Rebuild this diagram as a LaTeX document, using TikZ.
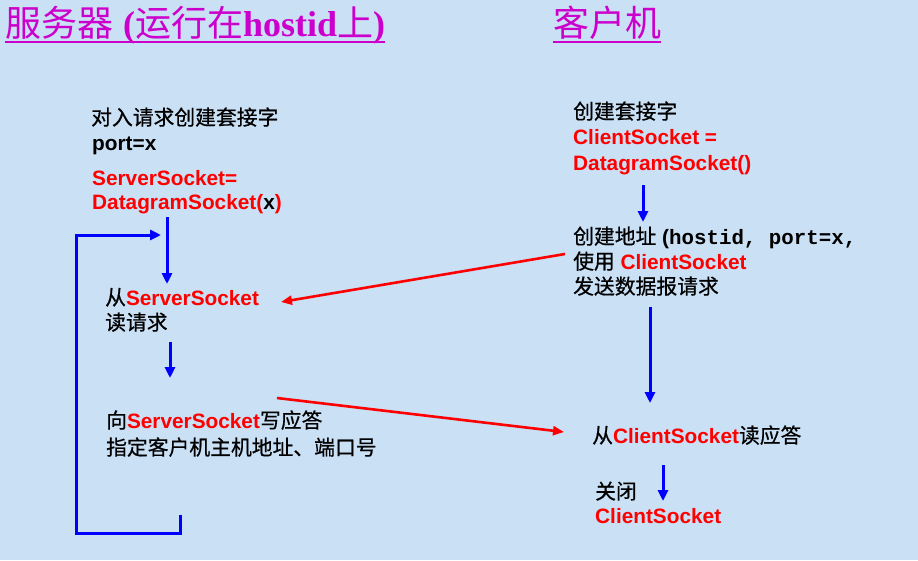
\documentclass[tikz,border=0pt]{standalone}
\usepackage{fontspec}
\setmainfont{Liberation Sans}
\newfontfamily\cjk{Noto Sans CJK SC}
\newfontfamily\cjkm[FakeBold=0.6]{Noto Sans CJK SC}
\newfontfamily\monob{Liberation Mono}
\newfontfamily\tserif{Liberation Serif}
\usetikzlibrary{arrows.meta}
\definecolor{bgblue}{RGB}{202,224,245}
\definecolor{ttl}{RGB}{204,0,204}
\newcommand{\zhtxt}[1]{{\cjkm\mdseries #1}}
\newcommand{\zhttl}[1]{{\cjk\mdseries #1}}
\newcommand{\rd}[1]{\textcolor{red}{#1}}
\tikzset{
  txt/.style={anchor=base west, inner sep=0pt, font=\fontsize{20.8}{24}\selectfont\bfseries},
  ttlstyle/.style={anchor=base west, inner sep=0pt, text=ttl, font=\fontsize{36}{40}\selectfont\bfseries},
  blu/.style={draw=blue, line width=3pt, -{Triangle[length=11pt,width=10pt]}},
  redarr/.style={draw=red, line width=2.6pt, -{Triangle[length=11pt,width=9pt]}},
  uline/.style={draw=ttl, line width=2pt}
}
\begin{document}
\begin{tikzpicture}[x=1pt,y=-1pt]
\fill[bgblue] (0,0) rectangle (918,560);
\useasboundingbox (0,0) rectangle (918,560);
% titles
\node[ttlstyle] (t1) at (5,36) {\zhttl{服务器} \tserif(\zhttl{运行在}hostid\zhttl{上})};
\draw[uline] ([yshift=-6pt]t1.base west) -- ([yshift=-6pt]t1.base east);
\node[ttlstyle] (t2) at (553,36) {\zhttl{客户机}};
\draw[uline] ([yshift=-6pt]t2.base west) -- ([yshift=-6pt]t2.base east);
% server side
\node[txt] (s1) at (91,125) {\zhtxt{对入请求创建套接字}};
\node[txt] (s2) at (92,150) {port=x};
\node[txt, text=red] (s3) at (92,185) {ServerSocket=};
\node[txt] (s4) at (92,209) {\rd{DatagramSocket(}x\rd{)}};
\node[txt] (s5) at (105,305) {\zhtxt{从}\rd{ServerSocket}};
\node[txt] (s6) at (105,330) {\zhtxt{读请求}};
\node[txt] (s7) at (106,428) {\zhtxt{向}\rd{ServerSocket}\zhtxt{写应答}};
\node[txt] (s8) at (106,455) {\zhtxt{指定客户机主机地址、端口号}};
% client side
\node[txt] (c1) at (573,119) {\zhtxt{创建套接字}};
\node[txt, text=red] (c2) at (573,144) {ClientSocket =};
\node[txt, text=red] (c3) at (573,170) {DatagramSocket()};
\node[txt] (c4) at (573,244) {\zhtxt{创建地址} ({\monob hostid, port=x,}};
\node[txt] (c5) at (573,269) {\zhtxt{使用} \rd{ClientSocket}};
\node[txt] (c6) at (573,294) {\zhtxt{发送数据报请求}};
\node[txt] (c7) at (592,443) {\zhtxt{从}\rd{ClientSocket}\zhtxt{读应答}};
\node[txt] (c8) at (595,499) {\zhtxt{关闭}};
\node[txt, text=red] (c9) at (595,523) {ClientSocket};
% connector points
\coordinate (a1s) at (167,217); \coordinate (a1e) at (167,284);
\coordinate (a2s) at (170,342); \coordinate (a2e) at (170,378);
\coordinate (l1) at (180,515); \coordinate (l2) at (180,533);
\coordinate (l3) at (76,533); \coordinate (l4) at (76,235);
\coordinate (l5) at (161,235);
\coordinate (b1s) at (643,185); \coordinate (b1e) at (643,222);
\coordinate (b2s) at (650,307); \coordinate (b2e) at (650,403);
\coordinate (b3s) at (663,465); \coordinate (b3e) at (663,501);
\coordinate (r1s) at (565,254); \coordinate (r1e) at (281,302);
\coordinate (r2s) at (277,398); \coordinate (r2e) at (564,432);
% blue arrows
\draw[blu] (a1s) -- (a1e);
\draw[blu] (a2s) -- (a2e);
\draw[blu] (l1) -- (l2) -- (l3) -- (l4) -- (l5);
\draw[blu] (b1s) -- (b1e);
\draw[blu] (b2s) -- (b2e);
\draw[blu] (b3s) -- (b3e);
% red arrows
\draw[redarr] (r1s) -- (r1e);
\draw[redarr] (r2s) -- (r2e);
\end{tikzpicture}
\end{document}
